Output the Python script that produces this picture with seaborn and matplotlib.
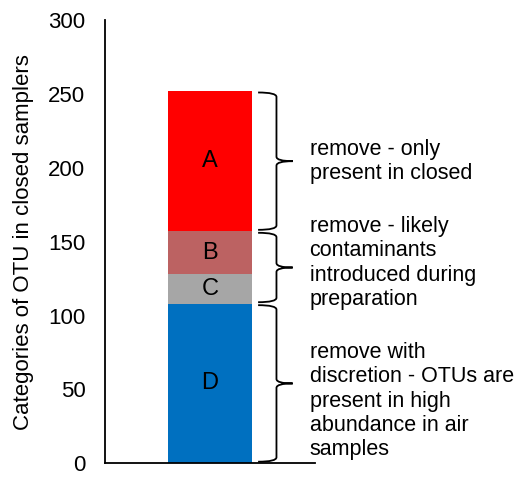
import numpy as np
import pandas as pd
import matplotlib.pyplot as plt
import seaborn as sns
from matplotlib.path import Path
from matplotlib.patches import PathPatch

# segment data (bottom to top)
categories = ['D', 'C', 'B', 'A']
counts = [108, 20, 29, 95]
colors = ['#0070C0', '#A6A6A6', '#BC6262', '#FF0000']

# brace groups: (start, end) and their notes
brace_ranges = [(0, 108), (108, 157), (157, 252)]
brace_texts = [
    'remove with\ndiscretion - OTUs are\npresent in high\nabundance in air\nsamples',
    'remove - likely\ncontaminants\nintroduced during\npreparation',
    'remove - only\npresent in closed',
]
text_offsets = [-12, 3, 0]

sns.set_style('white')
plt.rcParams['font.family'] = ['Liberation Sans', 'DejaVu Sans']
plt.rcParams['text.color'] = 'black'
plt.rcParams['axes.labelcolor'] = 'black'
plt.rcParams['ytick.color'] = 'black'

fig = plt.figure(figsize=(5.22, 4.79), dpi=100)
ax = fig.add_axes([0.201, 0.033, 0.402, 0.925])

cum = np.cumsum(counts)
# stacked bars: draw tallest first so lower segments sit on top
for i in range(len(categories) - 1, -1, -1):
    df = pd.DataFrame({'x': ['closed'], 'y': [cum[i]]})
    sns.barplot(data=df, x='x', y='y', color=colors[i], saturation=1,
                width=0.4, ax=ax, edgecolor='none')

bottoms = np.concatenate([[0], cum[:-1]])
for lab, b, h in zip(categories, bottoms, counts):
    ax.text(0, b + h / 2, lab, ha='center', va='center', fontsize=17)


def brace(ax, y0, y1, x0=0.23, x1=0.395):
    xm = (x0 + x1) / 2 + 0.005
    ym = (y0 + y1) / 2
    d = 3
    verts = [(x0, y0), (xm, y0), (xm, y0 + d), (xm, ym - d),
             (xm, ym), (x1, ym), (x1, ym),
             (x1, ym), (xm, ym), (xm, ym + d), (xm, y1 - d),
             (xm, y1), (x0, y1), (x0, y1)]
    codes = [Path.MOVETO, Path.CURVE3, Path.CURVE3, Path.LINETO,
             Path.CURVE3, Path.CURVE3, Path.LINETO,
             Path.MOVETO, Path.CURVE3, Path.CURVE3, Path.LINETO,
             Path.CURVE3, Path.CURVE3, Path.LINETO]
    ax.add_patch(PathPatch(Path(verts, codes), fc='none', ec='black',
                           lw=1.3, clip_on=False))


for (y0, y1), txt, off in zip(brace_ranges, brace_texts, text_offsets):
    brace(ax, y0 + 1, y1 - 1)
    ax.text(0.475, (y0 + y1) / 2 + off, txt, ha='left', va='center',
            fontsize=15.5, linespacing=1.2, clip_on=False)

ax.set_xlim(-0.5, 0.5)
ax.set_ylim(0, 300)
ax.set_yticks(range(0, 301, 50))
ax.set_xticks([])
ax.set_xlabel('')
ax.set_ylabel('Categories of OTU in closed samplers', fontsize=16, labelpad=10)
ax.tick_params(axis='y', labelsize=16, length=0, pad=14)
sns.despine(ax=ax)
for s in ['left', 'bottom']:
    ax.spines[s].set_color('black')
    ax.spines[s].set_linewidth(1.3)

fig.savefig('out.png', dpi=100)
